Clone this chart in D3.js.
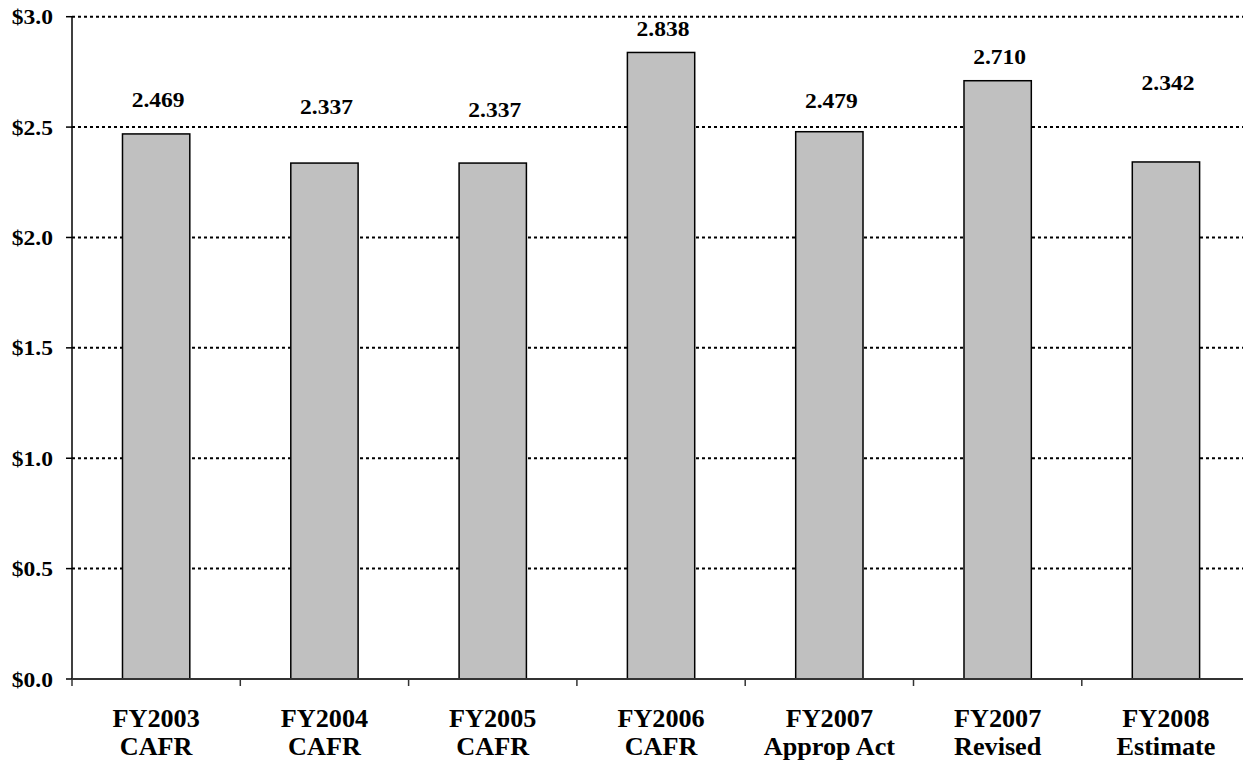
<!DOCTYPE html>
<html>
<head>
<meta charset="utf-8">
<script src="https://cdn.jsdelivr.net/npm/d3@7"></script>
<style>
  html, body { margin: 0; padding: 0; background: #fff; }
  text { font-family: "Liberation Serif", "Times New Roman", serif; font-weight: bold; fill: #000; }
</style>
</head>
<body>
<div id="chart"></div>
<script>
// data
var years = ["FY2003", "FY2004", "FY2005", "FY2006", "FY2007", "FY2007", "FY2008"];
var kinds = ["CAFR", "CAFR", "CAFR", "CAFR", "Approp Act", "Revised", "Estimate"];
var values = [2.469, 2.337, 2.337, 2.838, 2.479, 2.710, 2.342];
var yTicks = [0, 0.5, 1.0, 1.5, 2.0, 2.5, 3.0];

// label lift above bar top (px), the original places them by hand
var labelLift = [27, 49, 46, 16, 24, 17, 72];

var width = 1243, height = 764;
var margin = {top: 16.7, left: 72, bottom: 85};
var stretch = 1.07; // the source text is a bit wide

var svg = d3.select("#chart")
	.append("svg")
	.attr("width", width)
	.attr("height", height);

var y = d3.scaleLinear()
	.domain([0, 3])
	.range([height - margin.bottom, margin.top]);

var x = d3.scaleBand()
	.domain(d3.range(values.length))
	.range([margin.left, margin.left + 7 * 168.3])
	.paddingInner(0.6)
	.paddingOuter(0.3);

var step = x.step();

function wideText(g, tx, ty, str, size, anchor) {
	return g.append("text")
		.attr("transform", "translate(" + tx + "," + ty + ") scale(" + stretch + ",1)")
		.attr("text-anchor", anchor)
		.style("font-size", size + "px")
		.text(str);
}

// grid lines
svg.append("g")
	.selectAll("line")
	.data(yTicks.filter(function(d) { return d > 0; }))
	.enter()
	.append("line")
	.attr("x1", margin.left)
	.attr("x2", width)
	.attr("y1", function(d) { return y(d); })
	.attr("y2", function(d) { return y(d); })
	.attr("stroke", "#000")
	.attr("stroke-width", 2)
	.attr("stroke-dasharray", "3,3");

// bars
svg.append("g")
	.selectAll("rect")
	.data(values)
	.enter()
	.append("rect")
	.attr("x", function(d, i) { return x(i); })
	.attr("y", function(d) { return y(d); })
	.attr("width", x.bandwidth())
	.attr("height", function(d) { return y(0) - y(d); })
	.attr("fill", "#C0C0C0")
	.attr("stroke", "#000")
	.attr("stroke-width", 1.5);

// value labels
var vl = svg.append("g");
values.forEach(function(d, i) {
	wideText(vl, x(i) + x.bandwidth() / 2 + 2, y(d) - labelLift[i], d3.format(".3f")(d), 22, "middle");
});

// y axis
var ya = svg.append("g");
ya.append("line")
	.attr("x1", margin.left).attr("x2", margin.left)
	.attr("y1", y(3)).attr("y2", y(0))
	.attr("stroke", "#000").attr("stroke-width", 1.5);
yTicks.forEach(function(d) {
	ya.append("line")
		.attr("x1", margin.left - 6).attr("x2", margin.left)
		.attr("y1", y(d)).attr("y2", y(d))
		.attr("stroke", "#000").attr("stroke-width", 1.5);
	wideText(ya, 53, y(d) + 7.5, "$" + d3.format(".1f")(d), 22, "end");
});

// x axis
var xa = svg.append("g");
xa.append("line")
	.attr("x1", margin.left).attr("x2", width)
	.attr("y1", y(0)).attr("y2", y(0))
	.attr("stroke", "#333").attr("stroke-width", 2);
d3.range(values.length + 1).forEach(function(i) {
	var bx = margin.left + i * step;
	xa.append("line")
		.attr("x1", bx).attr("x2", bx)
		.attr("y1", y(0)).attr("y2", y(0) + 7)
		.attr("stroke", "#333").attr("stroke-width", 1.5);
});
values.forEach(function(d, i) {
	var cx = x(i) + x.bandwidth() / 2;
	wideText(xa, cx, 727, years[i], 24.5, "middle");
	wideText(xa, cx, 755, kinds[i], 24.5, "middle");
});
</script>
</body>
</html>
